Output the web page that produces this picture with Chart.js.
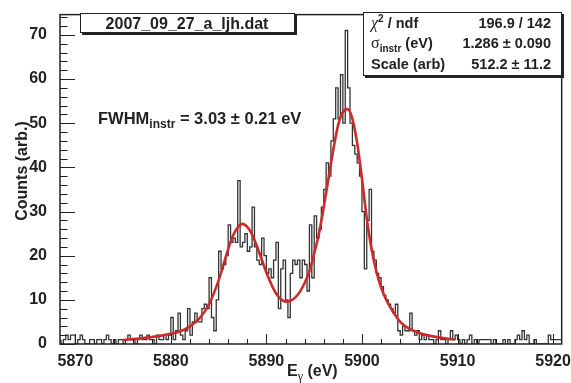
<!DOCTYPE html>
<html>
<head>
<meta charset="utf-8">
<script src="https://cdn.jsdelivr.net/npm/chart.js@4.4.1/dist/chart.umd.min.js"></script>
<style>
html, body { margin: 0; padding: 0; background: #fff; }
</style>
</head>
<body>
<canvas id="histChart" width="571" height="383"></canvas>
<script>
// ヒストグラム (0.25 eV bins)
var binStart = 5868.5;
var binWidth = 0.25;
var counts = [
  1, 0,
  1, 2, 1, 2,   2, 0, 1, 2,   1, 0, 0, 1,   1, 0, 1, 1,   0, 1, 2, 1,   // 5869-5873
  0, 1, 0, 1,   1, 0, 1, 2,   1, 1, 0, 1,   2, 1, 1, 2,   1, 1, 0, 2,   // 5874-5878
  1, 1, 2, 1,   2, 6, 1, 3,   7, 2, 1, 3,   8, 2, 5, 7,   5, 5, 8, 9,   // 5879-5883
  8, 15, 6, 3,  10, 21, 17, 18,  20, 27, 23, 24,  23, 37, 22, 23,  25, 21, 22, 31, // 5884-5888
  22, 19, 18, 24,  20, 16, 17, 15,  19, 23, 8, 17,  19, 10, 6, 16,  19, 18, 19, 15, // 5889-5893
  19, 18, 12, 27,  15, 29, 24, 26,  31, 35, 41, 38,  46, 51, 58, 51,  61, 50, 71, 58, // 5894-5898
  50, 45, 43, 41,  38, 30, 17, 28,  35, 21, 19, 16,  15, 13, 11, 10,  9, 8, 7, 9,  // 5899-5903
  3, 2, 4, 3,   3, 7, 3, 2,   3, 1, 2, 1,   2, 1, 1, 0,   1, 3, 1, 1,   // 5904-5908
  0, 1, 3, 1,   2, 1, 0, 1,   0, 1, 2, 0,   1, 0, 1, 1,   1, 1, 1, 0,   // 5909-5913
  1, 0, 0, 0,   1, 0, 1, 0,   0, 1, 2, 1,   3, 1, 2, 0,   0, 1, 0, 0,   // 5914-5918
  0, 0, 0, 2,   1, 1, 1, 1                                              // 5919-5920
];

// フィット曲線 (読み取り値)
var fitE = [5875, 5876, 5877, 5878, 5879, 5880, 5881, 5882, 5883, 5884, 5885, 5886,
  5886.5, 5887, 5887.5, 5888, 5888.5, 5889, 5889.5, 5890, 5890.5, 5891, 5891.5, 5892,
  5892.5, 5893, 5893.5, 5894, 5894.5, 5895, 5895.5, 5896, 5896.5, 5897, 5897.5, 5898,
  5898.5, 5899, 5899.5, 5900, 5900.5, 5901, 5901.5, 5902, 5902.5, 5903, 5904, 5905,
  5906, 5907, 5908, 5909, 5909.7];
var fitY = [0.9, 1.1, 1.3, 1.6, 1.9, 2.3, 2.9, 4.0, 5.8, 9.0, 14.4, 21.5,
  24.5, 26.4, 27.2, 26.5, 24.8, 22.2, 19.2, 16.2, 13.6, 11.5, 10.2, 9.6,
  9.8, 10.5, 11.8, 13.8, 16.5, 20.5, 25.0, 31.0, 37.5, 44.0, 49.5, 52.5,
  53.2, 51.0, 45.5, 37.5, 28.5, 21.5, 16.5, 12.8, 10.2, 8.2, 5.0, 3.4,
  2.5, 1.9, 1.5, 1.2, 1.0];

var xTicks = [5870, 5880, 5890, 5900, 5910, 5920];
var yTicks = [0, 10, 20, 30, 40, 50, 60, 70];

var histPoints = counts.map(function (c, i) {
  return { x: binStart + i * binWidth, y: c };
});
histPoints.push({ x: binStart + counts.length * binWidth, y: counts[counts.length - 1] });

var fitPoints = fitE.map(function (e, i) {
  return { x: e, y: fitY[i] };
});

var ink = '#222';
var sans = '"Liberation Sans", Arial, sans-serif';
var serif = '"Liberation Serif", "Times New Roman", serif';

function drawParts(ctx, parts, x, y, align) {
  var total = 0;
  parts.forEach(function (p) {
    ctx.font = p.font;
    p.w = ctx.measureText(p.t).width;
    total += p.w;
  });
  var cx = x;
  if (align === 'right') cx = x - total;
  if (align === 'center') cx = x - total / 2;
  ctx.textAlign = 'left';
  ctx.textBaseline = 'alphabetic';
  parts.forEach(function (p) {
    ctx.font = p.font;
    ctx.fillText(p.t, cx, y + (p.dy || 0));
    cx += p.w;
  });
}

function drawPave(ctx, x1, y1, x2, y2) {
  ctx.fillStyle = ink;
  ctx.fillRect(x1 + 2, y1 + 2, x2 - x1, y2 - y1);
  ctx.fillStyle = '#fff';
  ctx.fillRect(x1, y1, x2 - x1, y2 - y1);
  ctx.strokeStyle = ink;
  ctx.lineWidth = 1;
  ctx.strokeRect(x1 + 0.5, y1 + 0.5, x2 - x1 - 1, y2 - y1 - 1);
}

// ROOT風の枠、内向きの目盛り、テキスト
var rootDecor = {
  id: 'rootDecor',
  afterDraw: function (chart) {
    var ctx = chart.ctx;
    var a = chart.chartArea;
    var xs = chart.scales.x;
    var ys = chart.scales.y;
    ctx.save();

    // 目盛り
    ctx.strokeStyle = ink;
    ctx.lineWidth = 1;
    ctx.beginPath();
    for (var v = 0; v <= 74; v += 2) {
      var py = Math.round(ys.getPixelForValue(v)) + 0.5;
      var len = (v % 10 === 0) ? 15 : 7.5;
      ctx.moveTo(a.left, py);
      ctx.lineTo(a.left + len, py);
    }
    for (var e = 5870; e <= 5920; e += 2) {
      var px = Math.round(xs.getPixelForValue(e)) + 0.5;
      var len2 = (e % 10 === 0) ? 10 : 5;
      ctx.moveTo(px, a.bottom);
      ctx.lineTo(px, a.bottom - len2);
    }
    ctx.stroke();

    // 枠
    ctx.lineWidth = 1.5;
    ctx.strokeRect(a.left, a.top, a.right - a.left, a.bottom - a.top);

    // タイトル
    drawPave(ctx, 80, 13, 295, 33);
    ctx.fillStyle = ink;
    drawParts(ctx, [{ t: '2007_09_27_a_ljh.dat', font: 'bold 16px ' + sans }], 187, 29, 'center');

    // 統計ボックス
    drawPave(ctx, 363, 12, 562, 76);
    ctx.fillStyle = ink;
    var lf = 'bold 14.5px ' + sans;
    var sf = 'bold 10px ' + sans;
    drawParts(ctx, [
      { t: 'χ', font: 'italic 16px ' + serif },
      { t: '2', font: sf, dy: -6 },
      { t: ' / ndf', font: lf }
    ], 371, 28, 'left');
    drawParts(ctx, [
      { t: 'σ', font: '16px ' + serif },
      { t: 'instr', font: sf, dy: 4 },
      { t: ' (eV)', font: lf }
    ], 371, 48, 'left');
    drawParts(ctx, [{ t: 'Scale (arb)', font: lf }], 371, 69, 'left');
    drawParts(ctx, [{ t: '196.9 / 142', font: lf }], 551, 28, 'right');
    drawParts(ctx, [{ t: '1.286 ± 0.090', font: lf }], 551, 48, 'right');
    drawParts(ctx, [{ t: '512.2 ± 11.2', font: lf }], 551, 69, 'right');

    // FWHM
    drawParts(ctx, [
      { t: 'FWHM', font: 'bold 16.5px ' + sans },
      { t: 'instr', font: 'bold 12px ' + sans, dy: 4 },
      { t: ' = 3.03 ± 0.21 eV', font: 'bold 16.5px ' + sans }
    ], 98, 124, 'left');

    // 軸タイトル
    drawParts(ctx, [
      { t: 'E', font: 'bold 16px ' + sans },
      { t: 'γ', font: '12px ' + serif, dy: 4 },
      { t: ' (eV)', font: 'bold 16px ' + sans }
    ], 287, 376, 'left');

    ctx.translate(22.5, 171);
    ctx.rotate(-Math.PI / 2);
    ctx.textAlign = 'center';
    ctx.textBaseline = 'middle';
    ctx.font = 'bold 16px ' + sans;
    ctx.fillText('Counts (arb.)', 0, 0);

    ctx.restore();
  }
};

var histChart = new Chart(document.getElementById('histChart'), {
  type: 'line',
  data: {
    datasets: [{
      label: 'fit',
      data: fitPoints,
      borderColor: '#cc2b2b',
      borderWidth: 2.6,
      pointRadius: 0,
      tension: 0.4,
      cubicInterpolationMode: 'monotone',
      fill: false,
      order: 0
    }, {
      label: 'counts',
      data: histPoints,
      borderColor: '#333',
      borderWidth: 1.3,
      pointRadius: 0,
      stepped: 'after',
      fill: false,
      order: 1
    }]
  },
  options: {
    responsive: false,
    animation: false,
    layout: { padding: { top: 4, right: 7, left: 0, bottom: 0 } },
    plugins: { legend: { display: false }, tooltip: { enabled: false } },
    scales: {
      x: {
        type: 'linear',
        min: 5868.4,
        max: 5920.9,
        afterBuildTicks: function (s) { s.ticks = xTicks.map(function (v) { return { value: v }; }); },
        afterFit: function (s) { s.height = 39; },
        grid: { display: false },
        border: { display: false },
        ticks: {
          color: ink, maxRotation: 0, padding: 0,
          font: { family: sans, size: 16, weight: 'bold' },
          callback: function (v) { return String(v); }
        }
      },
      y: {
        min: 0,
        max: 74.6,
        afterBuildTicks: function (s) { s.ticks = yTicks.map(function (v) { return { value: v }; }); },
        afterFit: function (s) { s.width = 60; },
        grid: { display: false },
        border: { display: false },
        ticks: { color: ink, padding: 5, font: { family: sans, size: 16, weight: 'bold' } }
      }
    }
  },
  plugins: [rootDecor]
});
</script>
</body>
</html>
